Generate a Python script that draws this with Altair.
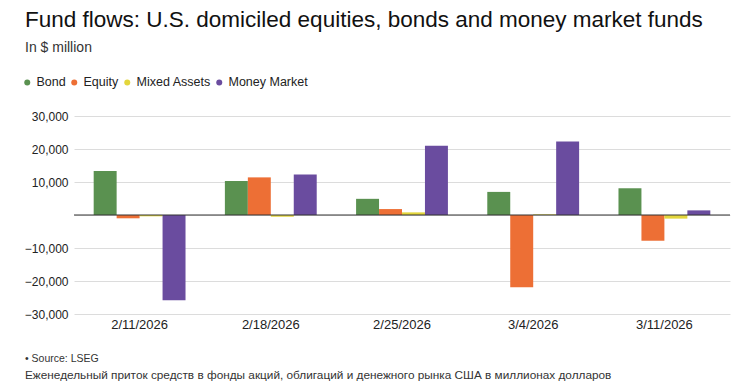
import altair as alt
import pandas as pd

dates = ["2/11/2026", "2/18/2026", "2/25/2026", "3/4/2026", "3/11/2026"]
series = ["Bond", "Equity", "Mixed Assets", "Money Market"]
bond = [13300, 10300, 4900, 7000, 8100]
equity = [-1000, 11400, 1800, -21900, -7800]
mixed = [-400, -500, 800, 200, -1100]
money = [-25800, 12300, 21000, 22300, 1400]
y_ticks = [-30000, -20000, -10000, 0, 10000, 20000, 30000]
colors = ["#5a9150", "#ed6f35", "#e3d63c", "#6a4c9f"]

title_text = "Fund flows: U.S. domiciled equities, bonds and money market funds"
subtitle_text = "In $ million"
source_text = "• Source: LSEG"
note_text = "Еженедельный приток средств в фонды акций, облигаций и денежного рынка США в миллионах долларов"

rows = []
for name, vals in zip(series, [bond, equity, mixed, money]):
    for d, v in zip(dates, vals):
        rows.append({"date": d, "series": name, "value": v})
df = pd.DataFrame(rows)

FONT = "Liberation Sans"
LEFT = -49

y_scale = alt.Scale(domain=[-30000, 30000], nice=False)
y_axis = alt.Axis(values=y_ticks, format=",.0f",
                  labelExpr="datum.value == 0 ? '' : datum.label",
                  labelOverlap=False, title=None,
                  domain=False, ticks=False, labelPadding=6, labelFontSize=12,
                  labelColor="#222", labelFont=FONT, gridColor="#dcdcdc")

bars = alt.Chart(df).mark_bar().encode(
    x=alt.X("date:N", sort=dates, title=None,
            scale=alt.Scale(paddingInner=0.3, paddingOuter=0.15),
            axis=alt.Axis(labelAngle=0, domain=False, ticks=False, labelPadding=4,
                          labelFontSize=13, labelColor="#222", labelFont=FONT)),
    xOffset=alt.XOffset("series:N", sort=series, scale=alt.Scale(paddingInner=0, paddingOuter=0)),
    y=alt.Y("value:Q", title=None, scale=y_scale, axis=y_axis),
    color=alt.Color("series:N", sort=series,
                    scale=alt.Scale(domain=series, range=colors),
                    legend=alt.Legend(title=None, orient="none", legendX=LEFT - 4, legendY=-40,
                                      direction="horizontal", symbolType="circle",
                                      symbolSize=36, labelFontSize=12.5, labelFont=FONT,
                                      labelColor="#222", columnPadding=2, labelOffset=3)),
)

zero = alt.Chart(pd.DataFrame({"value": [0]})).mark_rule(color="#333", strokeWidth=1).encode(
    y=alt.Y("value:Q", title=None, scale=y_scale, axis=y_axis))

def text_layer(txt, x, y, size, color="#111", font=FONT, weight="normal"):
    return alt.Chart(pd.DataFrame({"t": [txt]})).mark_text(
        align="left", baseline="alphabetic", fontSize=size, font=font,
        color=color, fontWeight=weight).encode(
        text="t:N", x=alt.value(x), y=alt.value(y))

title = text_layer(title_text, LEFT, -89, 22.5)
subtitle = text_layer(subtitle_text, LEFT, -64, 14, color="#333")
source = text_layer(source_text, LEFT, 246, 10.5, color="#333")
note = text_layer(note_text, LEFT, 263, 11.8, color="#333")

chart = alt.layer(bars, zero, title, subtitle, source, note).properties(
    width=656, height=198,
    autosize=alt.AutoSizeParams(type="none"),
    padding={"left": 66, "top": 108, "right": 6, "bottom": 68},
).configure(background="white").configure_view(stroke=None)

chart.save("out.html", embed_options={"renderer": "svg", "actions": False})
